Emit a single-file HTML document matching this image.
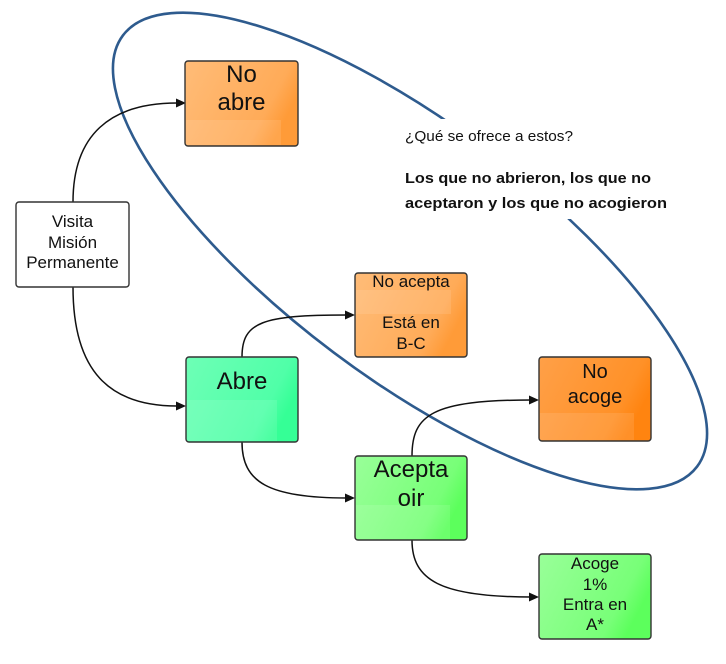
<!DOCTYPE html>
<html><head><meta charset="utf-8"><style>
html,body{margin:0;padding:0;background:#fff;}
svg{display:block;}
text{font-family:"Liberation Sans",Arial,sans-serif;fill:#111;}
</style></head><body>
<svg width="726" height="664" viewBox="0 0 726 664" xmlns="http://www.w3.org/2000/svg">
<defs>
<linearGradient id="or1" x1="0" y1="0" x2="1" y2="0.4">
<stop offset="0" stop-color="#ffbc78"/><stop offset="0.82" stop-color="#ffab58"/><stop offset="1" stop-color="#ff9b38"/></linearGradient>
<linearGradient id="or2" x1="0" y1="0" x2="1" y2="0.4">
<stop offset="0" stop-color="#ffa048"/><stop offset="0.82" stop-color="#ff9128"/><stop offset="1" stop-color="#ff8410"/></linearGradient>
<linearGradient id="gr1" x1="0" y1="0" x2="1" y2="0.4">
<stop offset="0" stop-color="#6effb6"/><stop offset="0.82" stop-color="#50ffa8"/><stop offset="1" stop-color="#35ff96"/></linearGradient>
<linearGradient id="gr2" x1="0" y1="0" x2="1" y2="0.4">
<stop offset="0" stop-color="#99ff99"/><stop offset="0.82" stop-color="#78ff78"/><stop offset="1" stop-color="#5cff5c"/></linearGradient>
</defs>

<!-- ellipse -->
<ellipse cx="410" cy="251" rx="359" ry="127" transform="rotate(36.9 410 251)" fill="none" stroke="#2e5b8e" stroke-width="2.6"/>

<!-- white box behind text -->
<rect x="396" y="119" width="292" height="100" fill="#fff"/>

<!-- connectors -->
<g fill="none" stroke="#111" stroke-width="1.5">
<path d="M73 202 C73 135 110 103 177 103"/>
<path d="M73 287 C73 372 110 406 177 406"/>
<path d="M242 357 C242 322 262 315 347 315"/>
<path d="M242 442 C242 482 268 498 347 498"/>
<path d="M412 456 C412 415 432 400 531 400"/>
<path d="M412 540 C412 580 440 597 531 597"/>
</g>
<g fill="#111">
<polygon points="186,103 176,98.5 176,107.5"/>
<polygon points="186,406 176,401.5 176,410.5"/>
<polygon points="355,315 345,310.5 345,319.5"/>
<polygon points="355,498 345,493.5 345,502.5"/>
<polygon points="539,400 529,395.5 529,404.5"/>
<polygon points="539,597 529,592.5 529,601.5"/>
</g>

<!-- boxes -->
<g stroke="#333" stroke-width="1.4">
<rect x="16" y="202" width="113" height="85" rx="3" fill="#fff"/>
<rect x="185" y="61" width="113" height="85" rx="3" fill="url(#or1)"/>
<rect x="355" y="273" width="112" height="84" rx="3" fill="url(#or1)"/>
<rect x="186" y="357" width="112" height="85" rx="3" fill="url(#gr1)"/>
<rect x="355" y="456" width="112" height="84" rx="3" fill="url(#gr2)"/>
<rect x="539" y="357" width="112" height="84" rx="3" fill="url(#or2)"/>
<rect x="539" y="554" width="112" height="85" rx="3" fill="url(#gr2)"/>
</g>
<!-- faint light patches -->
<g fill="#fff" opacity="0.1">
<rect x="186" y="120" width="95" height="25"/>
<rect x="356" y="290" width="95" height="24"/>
<rect x="187" y="400" width="90" height="41"/>
<rect x="356" y="505" width="94" height="34"/>
<rect x="540" y="413" width="94" height="27"/>
</g>

<!-- box texts -->
<g text-anchor="middle">
<text x="72.5" y="227" font-size="17">Visita</text>
<text x="72.5" y="248" font-size="17">Misión</text>
<text x="72.5" y="268" font-size="17">Permanente</text>

<text x="241.5" y="82" font-size="24">No</text>
<text x="241.5" y="110" font-size="24">abre</text>

<text x="411" y="287" font-size="17">No acepta</text>
<text x="411" y="328" font-size="17">Está en</text>
<text x="411" y="349" font-size="17">B-C</text>

<text x="242" y="389" font-size="24">Abre</text>

<text x="411" y="477" font-size="24">Acepta</text>
<text x="411" y="506" font-size="24">oir</text>

<text x="595" y="378" font-size="20">No</text>
<text x="595" y="403" font-size="20">acoge</text>

<text x="595" y="569" font-size="17">Acoge</text>
<text x="595" y="590" font-size="17">1%</text>
<text x="595" y="610" font-size="17">Entra en</text>
<text x="595" y="630" font-size="17">A*</text>
</g>

<!-- annotation -->
<text x="405" y="141" font-size="14.5" textLength="168" lengthAdjust="spacingAndGlyphs">¿Qué se ofrece a estos?</text>
<text x="405" y="183" font-size="15" font-weight="bold" textLength="246" lengthAdjust="spacingAndGlyphs">Los que no abrieron, los que no</text>
<text x="405" y="208" font-size="15" font-weight="bold" textLength="262" lengthAdjust="spacingAndGlyphs">aceptaron y los que no acogieron</text>
</svg>
</body></html>
